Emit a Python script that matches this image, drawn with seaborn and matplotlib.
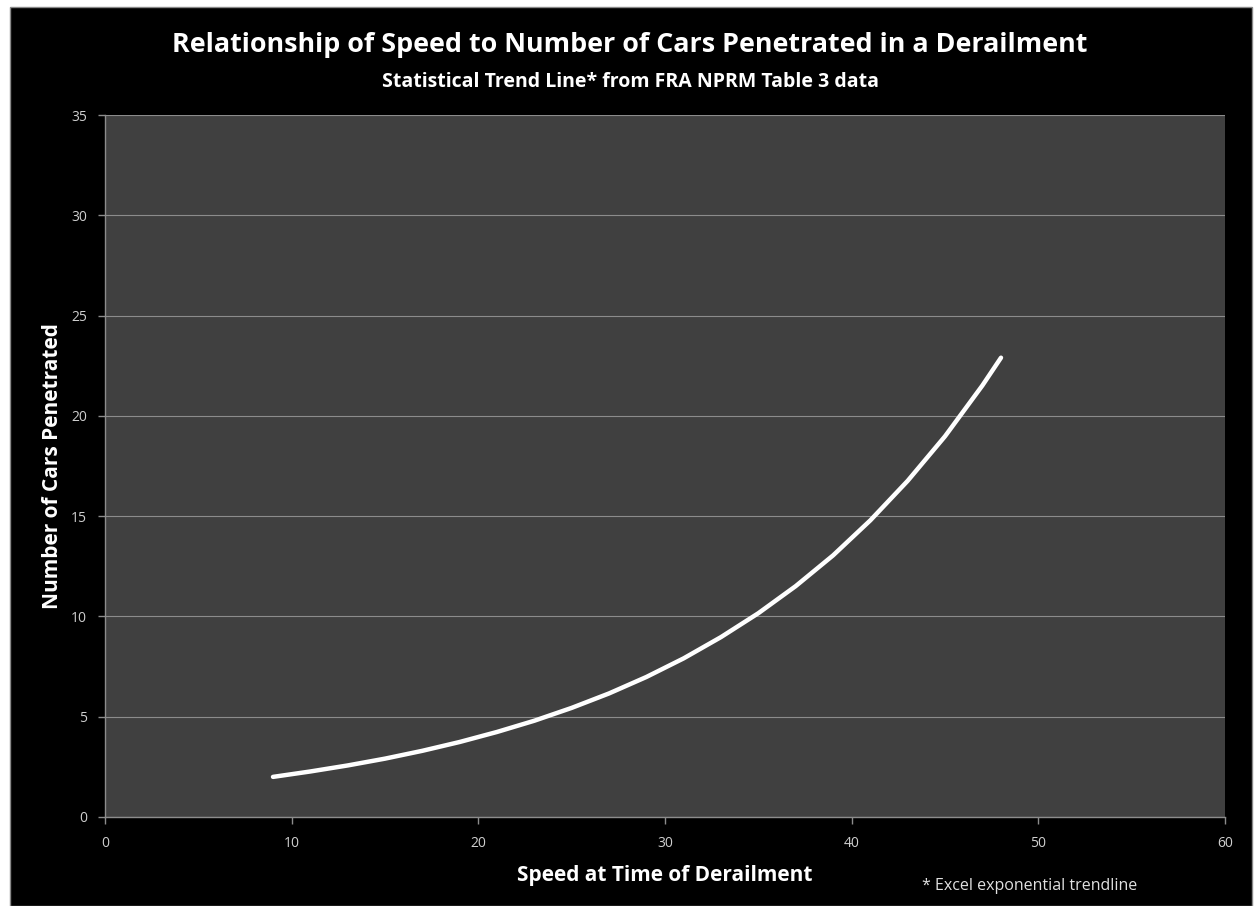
import matplotlib
matplotlib.use("Agg")
import matplotlib.pyplot as plt
import seaborn as sns
import pandas as pd
from matplotlib.patches import Rectangle

speed = [9, 11, 13, 15, 17, 19, 21, 23, 25, 27, 29, 31, 33, 35, 37, 39, 41, 43, 45, 47, 48]
cars = [2.00, 2.27, 2.57, 2.91, 3.30, 3.74, 4.24, 4.80, 5.44, 6.16, 6.98, 7.91, 8.97,
        10.16, 11.51, 13.04, 14.79, 16.76, 18.98, 21.51, 22.90]
x_ticks = [0, 10, 20, 30, 40, 50, 60]
y_ticks = [0, 5, 10, 15, 20, 25, 30, 35]

title = "Relationship of Speed to Number of Cars Penetrated in a Derailment"
subtitle = "Statistical Trend Line* from FRA NPRM Table 3 data"
xlabel = "Speed at Time of Derailment"
ylabel = "Number of Cars Penetrated"
note = "* Excel exponential trendline"

df = pd.DataFrame({"speed": speed, "cars": cars})

sns.set_theme(style="dark")
plt.rcParams['font.family'] = ['Open Sans', 'DejaVu Sans']

fig = plt.figure(figsize=(12.57, 9.06), dpi=100, facecolor="white")
bg = Rectangle((10/1257, 0), (1252-10)/1257, (906-7)/906,
               transform=fig.transFigure, facecolor="black",
               edgecolor="#888888", linewidth=1, zorder=-10)
fig.patches.append(bg)

ax = fig.add_axes([105/1257, (906-817)/906, (1225-105)/1257, (817-115)/906])
ax.set_zorder(5)
ax.set_facecolor("#404040")

sns.lineplot(data=df, x="speed", y="cars", ax=ax, color="white", linewidth=3.2,
             solid_capstyle="round")

ax.set_xlim(0, 60)
ax.set_ylim(0, 35)
ax.set_xticks(x_ticks)
ax.set_yticks(y_ticks)
ax.set_xticklabels([str(t) for t in x_ticks])
ax.set_yticklabels([str(t) for t in y_ticks])
ax.yaxis.grid(True, color="#8c8c8c", linewidth=0.8)
ax.xaxis.grid(False)
ax.set_axisbelow(True)

for side in ["top", "right"]:
    ax.spines[side].set_visible(False)
for side in ["left", "bottom"]:
    ax.spines[side].set_visible(True)
    ax.spines[side].set_color("#8c8c8c")
    ax.spines[side].set_linewidth(1)

ax.tick_params(axis="both", colors="#8c8c8c", labelcolor="#cfcfcf", labelsize=10,
               length=5, width=1, direction="out", bottom=True, left=True)
ax.tick_params(axis="x", pad=9)
ax.tick_params(axis="y", pad=8)

ax.set_xlabel(xlabel, color="white", fontsize=15, fontweight="bold", labelpad=10)
ax.set_ylabel(ylabel, color="white", fontsize=15, fontweight="bold", labelpad=6)

fig.text(630/1257, 1 - 45/906, title, ha="center", va="center", color="white",
         fontsize=19.4, fontweight="bold")
fig.text(630/1257, 1 - 82/906, subtitle, ha="center", va="center", color="white",
         fontsize=14, fontweight="bold")
fig.text(1030/1257, 1 - 886/906, note, ha="center", va="center", color="#e0e0e0",
         fontsize=11.5)

fig.savefig("out.png", dpi=100, facecolor=fig.get_facecolor())
